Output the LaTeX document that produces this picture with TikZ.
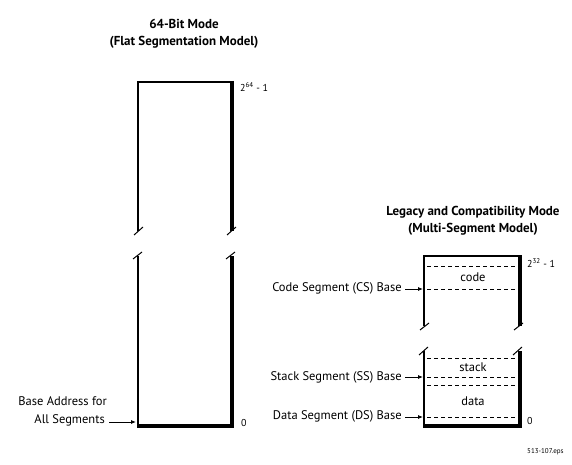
\documentclass[tikz,border=0pt]{standalone}
\usepackage{fontspec}
\setmainfont{PT Sans}
\usetikzlibrary{arrows.meta}
\begin{document}
\begin{tikzpicture}[x=1pt,y=-1pt,
  thinedge/.style={line width=1.6pt},
  shadowedge/.style={line width=4.5pt},
  brk/.style={line width=1pt},
  seg/.style={dash pattern=on 4pt off 3pt, line width=0.8pt},
  lbl/.style={font=\fontsize{12.5}{15}\selectfont, inner sep=0pt},
  small/.style={font=\fontsize{10}{12}\selectfont, inner sep=0pt},
  ttl/.style={font=\bfseries\fontsize{13}{17}\selectfont, align=center, inner sep=0pt},
  ptr/.style={-{Latex[length=5pt,width=4pt]}, line width=0.8pt}]
\useasboundingbox (0,0) rectangle (572,465);

% ---- left: 64-bit flat model ----
\node[ttl] (t64) at (184,34) {64-Bit Mode\\(Flat Segmentation Model)};
\draw[thinedge] (138,231) -- (138,81.8) -- (232,81.8);
\draw[shadowedge] (232,81) -- (232,231);
\draw[brk] (134,235) -- (143,227);
\draw[brk] (227,235) -- (236,227);
\draw[brk] (133,259) -- (142,252);
\draw[brk] (226,259) -- (235,252);
\draw[thinedge] (138,256) -- (138,427);
\draw[shadowedge] (232,256) -- (232,426);
\draw[shadowedge] (137.2,426) -- (234.25,426);
\node[small, anchor=west] (top64) at (240,87) {2\textsuperscript{64} - 1};
\node[small, anchor=west] (zero64) at (241,423) {0};
\node[lbl, anchor=east] (baseA) at (107,401) {Base Address for};
\node[lbl, anchor=east] (baseB) at (105,420) {All Segments};
\coordinate (basetip) at (136,422);
\draw[ptr] ([xshift=4pt]baseB.east |- basetip) -- (basetip);

% ---- right: legacy multi-segment model ----
\node[ttl] (tleg) at (473,221) {Legacy and Compatibility Mode\\(Multi-Segment Model)};
\draw[thinedge] (424,326) -- (424,255.8) -- (520,255.8);
\draw[shadowedge] (520,255) -- (520,326);
\draw[brk] (420,330) -- (429,323);
\draw[brk] (514,330) -- (523,323);
\draw[brk] (419,355) -- (428,347);
\draw[brk] (513,355) -- (522,347);
\draw[thinedge] (424,351) -- (424,427);
\draw[shadowedge] (520,351) -- (520,426);
\draw[shadowedge] (423.2,426) -- (522.25,426);

\coordinate (csl) at (427,289); \coordinate (csr) at (517,289);
\coordinate (ctl) at (427,266); \coordinate (ctr) at (517,266);
\coordinate (stl) at (427,358); \coordinate (str) at (517,358);
\coordinate (ssl) at (427,377); \coordinate (ssr) at (517,377);
\coordinate (dtl) at (427,385); \coordinate (dtr) at (517,385);
\coordinate (dsl) at (427,417); \coordinate (dsr) at (517,417);
\draw[seg] (ctl) -- (ctr);
\draw[seg] (csl) -- (csr);
\draw[seg] (stl) -- (str);
\draw[seg] (ssl) -- (ssr);
\draw[seg] (dtl) -- (dtr);
\draw[seg] (dsl) -- (dsr);

\node[lbl] (code) at (473,277) {code};
\node[lbl] (stack) at (473,367) {stack};
\node[lbl] (data) at (473,401) {data};
\node[small, anchor=west] (top32) at (527,263) {2\textsuperscript{32} - 1};
\node[small, anchor=west] (zero32) at (527,421) {0};

\node[lbl, anchor=east] (cs) at (402,288) {Code Segment (CS) Base};
\node[lbl, anchor=east] (ss) at (402,377) {Stack Segment (SS) Base};
\node[lbl, anchor=east] (ds) at (402,416) {Data Segment (DS) Base};
\coordinate (cstip) at (423,289);
\coordinate (sstip) at (423,377);
\coordinate (dstip) at (423,417);
\draw[ptr] ([xshift=3pt]cs.east |- cstip) -- (cstip);
\draw[ptr] ([xshift=3pt]ss.east |- sstip) -- (sstip);
\draw[ptr] ([xshift=3pt]ds.east |- dstip) -- (dstip);

\node[font=\fontsize{7}{8}\selectfont, anchor=west, inner sep=0pt] (eps) at (527,452) {513-107.eps};
\end{tikzpicture}
\end{document}
